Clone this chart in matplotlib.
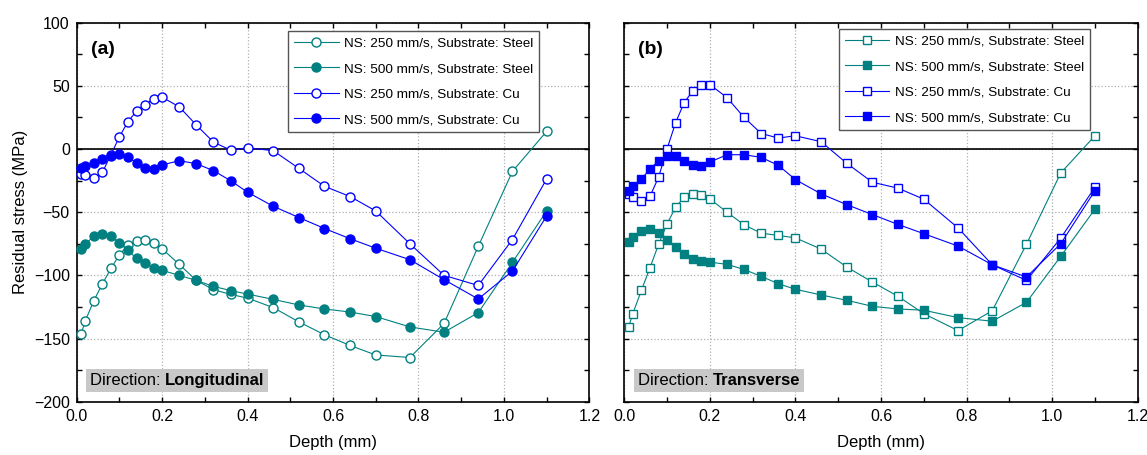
import matplotlib
matplotlib.use("Agg")
import matplotlib.pyplot as plt
from matplotlib.ticker import MultipleLocator

plt.rcParams["font.family"] = ["Liberation Sans", "DejaVu Sans"]

# ----------------------------
# DATOS
# ----------------------------
depth = [0.01, 0.02, 0.04, 0.06, 0.08, 0.10, 0.12, 0.14, 0.16, 0.18, 0.20,
         0.24, 0.28, 0.32, 0.36, 0.40, 0.46, 0.52, 0.58, 0.64, 0.70, 0.78,
         0.86, 0.94, 1.02, 1.10]

# (a) Longitudinal
steel250_long = [-146.6, -136, -120, -106.8, -94.5, -83.7, -75.8, -72.6, -71.8, -74.2, -79,
                 -91.3, -104, -111.3, -115, -118, -125.5, -136.8, -147, -155.5, -163, -165,
                 -138, -77, -17.7, 14]
steel500_long = [-79.5, -75, -69.2, -67.1, -69.2, -74.2, -80.3, -86.6, -90.5, -94, -96,
                 -100, -104, -108.7, -112, -114.8, -119, -123.4, -126.6, -129, -132.6, -140.8,
                 -145, -129.5, -89.7, -49]
cu250_long = [-19.7, -20.3, -22.9, -18.5, -4.5, 9.7, 21.8, 30, 35, 40, 41,
              33.4, 19, 5.5, -0.8, 1, -1.3, -15.3, -29.5, -37.6, -49, -75,
              -100, -108, -71.6, -23.7]
cu500_long = [-15.3, -13.7, -11.3, -8.2, -5.3, -4, -6.6, -10.8, -15.3, -15.5, -12.6,
              -9.2, -11.6, -17.1, -25, -34.2, -45.3, -54.2, -62.9, -71, -78.5, -87.6,
              -103.4, -118.7, -96.6, -53]

# (b) Transverse
steel250_trans = [-140.8, -130.2, -111.8, -94, -75.5, -59.2, -46, -38.2, -35.5, -36, -39.5,
                  -50, -60, -66.6, -68.4, -70.3, -79.2, -93.4, -105.3, -116.6, -130.3, -143.7,
                  -128, -75.3, -19, 10.5]
steel500_trans = [-73.2, -69.7, -64.5, -63.2, -66.3, -71.9, -77.6, -82.9, -86.9, -88.7, -89.5,
                  -91.3, -95.3, -100.8, -106.6, -111, -115.5, -119.7, -124.5, -126.6, -127.6, -133.4,
                  -136.3, -121.3, -85, -47.6]
cu250_trans = [-35.5, -37.6, -40.8, -37.4, -22.4, 0.2, 21, 36.8, 46, 50.5, 51,
               40.7, 25, 12.3, 8.7, 10.5, 5.8, -11.3, -26.3, -31, -39.7, -62.4,
               -91.6, -104, -70.5, -30.3]
cu500_trans = [-32.9, -29.5, -23.7, -15.8, -9.2, -5.3, -5.3, -9.2, -12.6, -13.7, -10.3,
               -4.5, -4.5, -6.6, -12.9, -24.2, -35.5, -44, -51.9, -59.7, -67, -76.8,
               -91.6, -101.3, -75, -33]

labels = ["NS: 250 mm/s, Substrate: Steel", "NS: 500 mm/s, Substrate: Steel",
          "NS: 250 mm/s, Substrate: Cu", "NS: 500 mm/s, Substrate: Cu"]

TEAL = "#008080"
BLUE = "#0000ff"


def dibujar_panel(ax, series, marker, ms, panel, direccion, leg_anchor):
    colores = [TEAL, TEAL, BLUE, BLUE]
    rellenos = ["white", TEAL, "white", BLUE]
    for y, lab, c, fc in zip(series, labels, colores, rellenos):
        ax.plot(depth, y, color=c, lw=0.8, marker=marker, ms=ms,
                mfc=fc, mec=c, mew=1.0, label=lab, clip_on=False, zorder=3)

    ax.axhline(0, color="black", lw=1.2, zorder=2)
    ax.set_xlim(0, 1.2)
    ax.set_ylim(-200, 100)
    ax.xaxis.set_major_locator(MultipleLocator(0.2))
    ax.xaxis.set_minor_locator(MultipleLocator(0.1))
    ax.yaxis.set_major_locator(MultipleLocator(50))
    ax.yaxis.set_minor_locator(MultipleLocator(25))
    ax.grid(True, which="major", color="#b0b0b0", ls=":", lw=0.9, zorder=0)
    ax.tick_params(which="both", direction="in", top=True, right=True,
                   length=3.5, width=1.0, labelsize=11.5, pad=5)
    for s in ax.spines.values():
        s.set_linewidth(1.2)
    ax.set_xlabel("Depth (mm)", fontsize=12, labelpad=8)

    ax.text(0.027, 0.93, panel, transform=ax.transAxes, fontsize=14,
            fontweight="bold", va="center", ha="left")

    # caja de dirección
    t = ax.text(0.026, 0.036, "Direction: ", transform=ax.transAxes, fontsize=12,
                va="bottom", ha="left",
                bbox=dict(boxstyle="square,pad=0.22", fc="#c8c8c8", ec="none"))
    ax.annotate(direccion, xycoords=t, xy=(1, 0), va="bottom", ha="left",
                fontsize=12, fontweight="bold",
                bbox=dict(boxstyle="square,pad=0.22", fc="#c8c8c8", ec="none"))

    leg = ax.legend(loc="upper right", bbox_to_anchor=leg_anchor, borderaxespad=0,
                    fontsize=9.7, handlelength=3.3, handletextpad=0.4,
                    labelspacing=0.97, borderpad=0.45, fancybox=False,
                    framealpha=1, edgecolor="#555555")
    leg.get_frame().set_linewidth(1.0)


fig = plt.figure(figsize=(11.47, 4.55), dpi=100)
ax1 = fig.add_axes([0.0669, 0.1171, 0.4469, 0.833])
ax2 = fig.add_axes([0.5443, 0.1171, 0.4476, 0.833])

dibujar_panel(ax1, [steel250_long, steel500_long, cu250_long, cu500_long],
              "o", 6.5, "(a)", "Longitudinal", (0.9025, 0.978))
dibujar_panel(ax2, [steel250_trans, steel500_trans, cu250_trans, cu500_trans],
              "s", 6.0, "(b)", "Transverse", (0.907, 0.983))

ax1.set_ylabel("Residual stress (MPa)", fontsize=12, labelpad=4)
ax2.tick_params(labelleft=False)

fig.savefig("out.png", dpi=100)
